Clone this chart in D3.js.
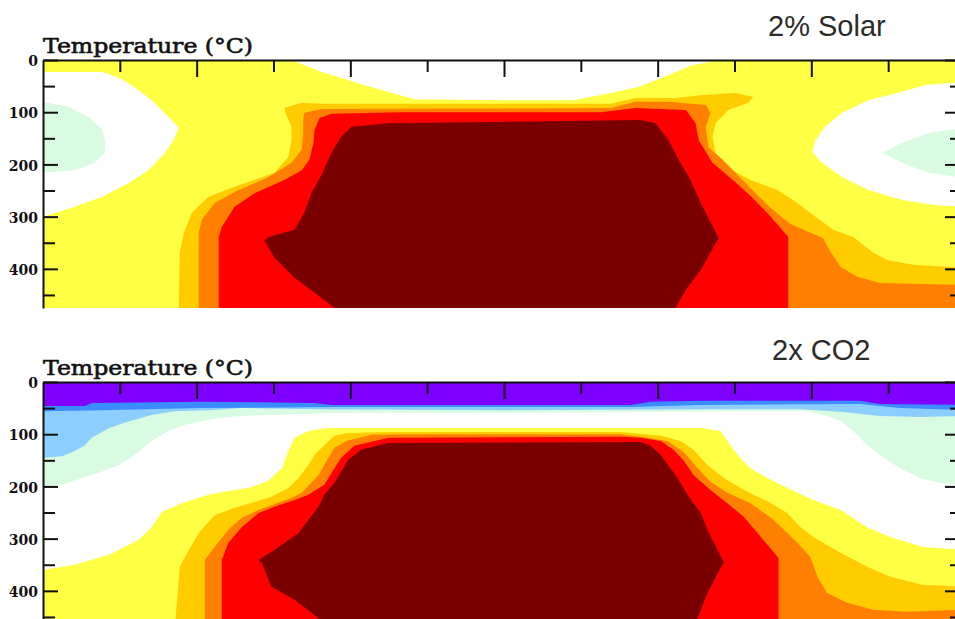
<!DOCTYPE html>
<html><head><meta charset="utf-8">
<script src="https://cdn.jsdelivr.net/npm/d3@7"></script>
<style>body{margin:0;background:#fff;overflow:hidden}svg{display:block}</style>
</head><body><svg id="c" width="955" height="619"></svg>
<script>
// ---------- data: contour band outlines as [latitude, level] ----------
const latMajor = [-60, -30, 0, 30, 60];
const latMinor = [-75, -45, -15, 15, 45, 75];
const levMajor = [0, 100, 200, 300, 400];
const levMinor = [50, 150, 250, 350, 450];
const panelTitles = ["2% Solar", "2x CO2"];
const axisTitle = "Temperature (\u00B0C)";

// Panel 1: 2% Solar
const solarWhiteTop = [[-41.5,0],[-35.6,23],[-25.9,52],[-17.5,75],[-0.6,77],[13.6,77],[20.8,63],[26.1,52],[32.1,29],[36.4,11],[41.9,0]];
const solarWhiteLeft = [[-90,23],[-78.4,23],[-75.2,34],[-72.1,52],[-68.8,77],[-65.5,109],[-63.5,130],[-64.5,153],[-66.2,178],[-69.4,211],[-73.2,235],[-78.4,262],[-83.8,281],[-90,300]];
const solarGreenLeft = [[-90,80],[-84.9,90],[-81,109],[-78.4,134],[-77.9,153],[-77.9,178],[-79.9,197],[-83.8,211],[-90,216]];
const solarWhiteRight = [[90,42],[82.2,48],[77.7,61],[71.1,77],[66,101],[62.7,128],[60.8,153],[60.2,176],[62.1,197],[66,224],[71.1,249],[77.7,268],[84.2,278],[90,281]];
const solarGreenRight = [[90,130],[82.8,140],[77.7,159],[73.8,178],[77.7,197],[82.8,216],[90,226]];
const solarGold = [[-63.5,475],[-63.3,369],[-62.5,331],[-61,293],[-57.7,262],[-52.6,243],[-44.8,216],[-42.1,186],[-41.5,153],[-41.5,128],[-42.5,105],[-42.9,92],[-39.5,82],[-35.6,84],[20.8,84],[25.7,73],[33.5,73],[38.8,67],[45.2,63],[48.7,71],[47.7,82],[43.8,96],[41.3,121],[40.7,147],[41.3,178],[43.8,207],[48.1,230],[53.4,249],[57.3,274],[59.8,293],[64.3,325],[68.2,339],[72.1,369],[74.8,383],[79.9,392],[90,398],[90,475]];
const solarOrange = [[-59.6,475],[-59.6,331],[-59,306],[-56.5,274],[-52.6,253],[-46,224],[-41.5,197],[-39.5,172],[-39.2,140],[-39.2,115],[-39,101],[-35.6,94],[20.8,92],[25.7,80],[32.1,80],[39.4,86],[40.3,101],[39.4,128],[39.9,167],[42.7,191],[46.2,226],[49.1,255],[52,283],[55.9,314],[59.8,331],[62.3,341],[63.7,367],[65.7,396],[69,415],[73.4,427],[90,431],[90,475]];
const solarRed = [[-55.7,475],[-55.7,339],[-55.1,320],[-52.6,281],[-48.7,255],[-42.9,230],[-39.5,211],[-38,191],[-37.2,159],[-37,134],[-36,111],[-33.7,103],[-20.1,100],[18.9,100],[25.7,92],[35.5,96],[37.4,121],[38,153],[40.7,197],[45.2,234],[48.5,264],[51.6,295],[55.5,339],[55.5,475]];
const solarDarkRed = [[-33.1,475],[-37,446],[-40.9,417],[-44.8,379],[-46.8,345],[-46,339],[-40.9,325],[-39,293],[-37.6,255],[-35.6,220],[-33.7,178],[-31.8,147],[-29.8,128],[-22.6,121],[26.7,115],[29.6,121],[32.1,153],[34.1,191],[36.4,230],[38.4,274],[41.9,341],[38.4,402],[35.5,440],[33.5,475]];

// Panel 2: 2x CO2
const co2Green = [[-90,0],[90,0],[90,197],[85.1,193],[81.2,184],[77.3,165],[73.4,140],[70.9,121],[68.2,94],[65.7,75],[63.1,65],[59.2,56],[46.2,56],[-0.6,59],[-31.8,59],[-44.8,63],[-51.2,65],[-55.7,69],[-59,75],[-62.3,82],[-65.5,94],[-68.8,113],[-72.1,140],[-75.2,159],[-79.1,174],[-82.4,184],[-86.3,197],[-90,203]];
const co2LightBlue = [[-90,0],[90,0],[90,65],[81.2,67],[73.4,65],[65.7,57],[57.9,52],[38.4,52],[-0.6,54],[-35.6,52],[-51.2,50],[-57.7,54],[-64.3,56],[-68.8,63],[-73.2,75],[-77.1,88],[-80.5,107],[-81.8,121],[-83.8,132],[-86.3,142],[-90,145]];
const co2Blue = [[-90,0],[90,0],[90,54],[77.3,50],[69.5,42],[38.4,44],[24.7,48],[-33.7,48],[-59,50],[-78.4,54],[-90,56]];
const co2Purple = [[-90,0],[90,0],[90,44],[73.4,42],[69.5,36],[38.4,36],[28.6,38],[24.7,44],[-33.7,44],[-37,40],[-59,38],[-80.5,40],[-81.8,46],[-90,46]];
const co2Yellow = [[-90,475],[-90,360],[-83.8,350],[-77.1,331],[-71.3,302],[-68.8,278],[-66.8,249],[-62.9,232],[-57.7,216],[-53.8,209],[-49.9,203],[-46,189],[-43.4,165],[-42.1,132],[-40.9,107],[-38.2,94],[-34.3,88],[38.4,88],[42.3,94],[44.2,121],[45.6,140],[48.1,165],[51.4,184],[55.3,203],[60.4,226],[65.7,245],[70.9,278],[75.4,297],[81.8,316],[90,322],[90,475]];
const co2Gold = [[-64.3,475],[-63.3,354],[-62.3,335],[-59.6,289],[-56.5,255],[-52.6,241],[-48.7,230],[-45.4,220],[-42.1,203],[-40.1,184],[-38.2,159],[-37,140],[-35.6,126],[-33.1,103],[-30.8,98],[-22.6,96],[22.8,96],[30.6,103],[34.5,113],[37,130],[39.7,159],[42.9,184],[46.2,203],[48.7,216],[51.4,228],[55.3,251],[57.9,278],[60.4,297],[65.7,327],[70.9,354],[75.4,373],[81.8,389],[90,392],[90,475]];
const co2Orange = [[-58.4,475],[-58.4,341],[-56.5,316],[-53.8,283],[-51.2,260],[-47.9,245],[-44.4,232],[-41.5,222],[-39.5,212],[-36.2,178],[-34.3,145],[-33.1,126],[-30.8,113],[-25.9,101],[-16.2,100],[22.8,100],[26.7,105],[31.9,113],[35.1,134],[37.8,165],[40.3,191],[43.6,212],[48.1,232],[52.6,264],[57.3,308],[59.8,335],[61.2,373],[63.1,404],[67,423],[72.1,436],[78.7,440],[90,436],[90,475]];
const co2Red = [[-55.1,475],[-55.1,341],[-53.8,308],[-51.2,278],[-47.9,251],[-44.8,239],[-40.9,226],[-38.2,216],[-35.1,197],[-33.1,165],[-31.8,145],[-29.2,122],[-22.6,107],[22.8,105],[26.7,107],[30.6,113],[33.1,130],[35.1,151],[37,178],[40.3,207],[43.6,232],[46.8,258],[50.6,302],[53.6,337],[53.6,475]];
const co2DarkRed = [[-35.3,475],[-36.2,452],[-40.9,417],[-45.4,392],[-47.3,346],[-47.9,341],[-44.8,322],[-40.1,289],[-38.2,264],[-36.2,239],[-35.1,216],[-33.1,193],[-30.4,149],[-27.9,130],[-22.6,117],[26.7,115],[28.6,122],[30.6,140],[32.5,165],[33.9,184],[35.8,216],[38.4,251],[39.7,283],[42.9,345],[39.7,404],[37.8,452],[36.8,475]];

// ---------- styling ----------
const C = {yellow:"#ffff44", gold:"#ffcc00", orange:"#ff8000", red:"#ff0000", dark:"#7a0000",
  white:"#ffffff", green:"#d8fbe1", lblue:"#8cceff", blue:"#3c8cff", purple:"#8000ff"};

const svg = d3.select("#c");
const x = d3.scaleLinear().domain([-90, 90]).range([43, 965]);

function drawPanel(top, base, layers, title, tx, ty) {
  const y = d3.scaleLinear().domain([0, 475]).range([top, top + 248]);
  const id = "clip" + top;
  svg.append("clipPath").attr("id", id).append("rect")
    .attr("x", x(-90)).attr("y", y(0)).attr("width", x(90) - x(-90)).attr("height", y(475) - y(0));
  const f = svg.append("g").attr("clip-path", `url(#${id})`);
  f.append("rect").attr("x", x(-90)).attr("y", y(0)).attr("width", x(90) - x(-90)).attr("height", y(475) - y(0)).attr("fill", base);
  const line = d3.line().x(d => x(d[0])).y(d => y(d[1]));
  layers.forEach(([pts, col]) => f.append("path").attr("d", line(pts) + "Z").attr("fill", col));

  // top axis (ticks pointing down into plot)
  const gx = svg.append("g").attr("transform", `translate(0,${top})`);
  gx.call(d3.axisBottom(x).tickValues(latMajor).tickSize(17).tickSizeOuter(0).tickFormat(""));
  gx.append("g").call(d3.axisBottom(x).tickValues(latMinor).tickSize(12).tickSizeOuter(0).tickFormat(""))
    .select(".domain").remove();
  // left axis
  const gl = svg.append("g").attr("transform", `translate(${x(-90)},0)`);
  gl.call(d3.axisLeft(y).tickValues(levMajor).tickSize(-15).tickSizeOuter(0).tickPadding(5));
  gl.append("g").call(d3.axisLeft(y).tickValues(levMinor).tickSize(-12).tickSizeOuter(0).tickFormat(""))
    .select(".domain").remove();
  // right axis
  const gr = svg.append("g").attr("transform", `translate(${x(90)},0)`);
  gr.call(d3.axisLeft(y).tickValues(levMajor).tickSize(20).tickSizeOuter(0).tickFormat(""));
  gr.append("g").call(d3.axisLeft(y).tickValues(levMinor).tickSize(15).tickSizeOuter(0).tickFormat(""))
    .select(".domain").remove();

  svg.selectAll(".domain, .tick line").attr("stroke", "#111").attr("stroke-width", 2);
  gl.selectAll(".tick text").attr("font-family", "DejaVu Serif").attr("font-weight", "bold")
    .attr("font-size", 14).attr("fill", "#111").attr("dy", "0.4em");

  svg.append("text").attr("x", 43).attr("y", top - 7).text(axisTitle)
    .attr("font-family", "DejaVu Serif").attr("font-size", 20).attr("fill", "#111")
    .attr("stroke", "#111").attr("stroke-width", 0.6)
    .attr("textLength", 210).attr("lengthAdjust", "spacingAndGlyphs");
  svg.append("text").attr("x", tx).attr("y", ty).text(title)
    .attr("font-family", "Liberation Sans, Arial, sans-serif").attr("font-size", 29).attr("fill", "#2b2b2b");
}

drawPanel(60, C.yellow, [
  [solarWhiteTop, C.white], [solarWhiteLeft, C.white], [solarGreenLeft, C.green],
  [solarWhiteRight, C.white], [solarGreenRight, C.green],
  [solarGold, C.gold], [solarOrange, C.orange], [solarRed, C.red], [solarDarkRed, C.dark]
], panelTitles[0], 768, 36);

drawPanel(382, C.white, [
  [co2Green, C.green], [co2LightBlue, C.lblue], [co2Blue, C.blue], [co2Purple, C.purple],
  [co2Yellow, C.yellow], [co2Gold, C.gold], [co2Orange, C.orange], [co2Red, C.red], [co2DarkRed, C.dark]
], panelTitles[1], 772, 360);
</script></body></html>
